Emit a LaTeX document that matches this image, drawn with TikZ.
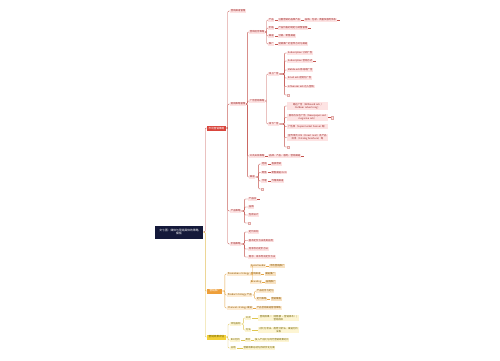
\documentclass[tikz,border=0pt]{standalone}
\usepackage{fontspec}
\setmainfont{Noto Sans CJK SC}
\definecolor{navy}{HTML}{14193A}
\definecolor{rmainc}{HTML}{D9453C}
\definecolor{rlc}{HTML}{C4544E}
\definecolor{rfill}{HTML}{FDE3E3}
\definecolor{rtext}{HTML}{9E2A2A}
\definecolor{omainc}{HTML}{EE9F3A}
\definecolor{olc}{HTML}{E5A545}
\definecolor{ofill}{HTML}{FDEBD2}
\definecolor{otext}{HTML}{8A5500}
\definecolor{ymainc}{HTML}{F2D03A}
\definecolor{ylc}{HTML}{E0C650}
\definecolor{yfill}{HTML}{FDF5D3}
\definecolor{ytext}{HTML}{6E5E00}
\newcommand\fsz{\fontsize{2.4}{2.9}\selectfont}
\newcommand\fszr{\fontsize{2.8}{3.6}\selectfont}
\tikzset{
  base/.style={font=\fsz, inner xsep=0.7pt, inner ysep=0.55pt, anchor=west},
  rleaf/.style={base, fill=rfill, text=rtext},
  oleaf/.style={base, fill=ofill, text=otext},
  yleaf/.style={base, fill=yfill, text=ytext},
  rbox/.style={rleaf, align=center, text width=39pt, inner ysep=0.8pt},
  ybox/.style={yleaf, align=center, text width=40pt, inner ysep=0.8pt},
  emptyr/.style={base, fill=rfill, draw=rlc!50, line width=0.2pt, minimum width=2.4pt, minimum height=2.4pt, inner sep=0pt},
  rootbox/.style={fill=navy, text=white, font=\fszr, align=center, text width=44pt, minimum height=13pt, inner sep=2pt},
  mainbox/.style={font=\fontsize{2.6}{3}\selectfont, inner xsep=1.5pt, inner ysep=1.2pt, anchor=west, text=white, minimum height=5pt},
  rl/.style={draw=rlc, line width=0.35pt, rounded corners=1pt},
  ol/.style={draw=olc, line width=0.35pt, rounded corners=1pt},
  yl/.style={draw=ylc, line width=0.35pt, rounded corners=1pt},
}
\begin{document}
\begin{tikzpicture}[x=1pt,y=-1pt]
\useasboundingbox (0,0) rectangle (500,360);
\fill[white] (0,0) rectangle (500,360);
% root
\node[rootbox] (root) at (179,232) {文七图：媒体与营销具体的策略\\模板};
% level 1
\node[mainbox, fill=rmainc] (n1) at (207,128) {市场营销策略};
\node[mainbox, fill=omainc, minimum width=15pt] (n2) at (207,291) {营销推广};
\node[mainbox, fill=ymainc, text=ytext] (n3) at (207,337) {营销效果评估};
\draw[rl] (root.east) -- ++(2,0) |- (n1.west);
\draw[ol] (root.east) -- ++(2,0) |- (n2.west);
\draw[yl] (root.east) -- ++(2,0) |- (n3.west);
% ---------- red branch ----------
\node[rleaf] (r1) at (230,11) {营销渠道管理};
\node[rleaf] (r2) at (230,104) {促销策略管理};
\node[rleaf] (r3) at (230,211) {产品策略};
\node[rleaf] (r4) at (230,244) {价格策略};
\foreach \c in {r1,r2,r3,r4} \draw[rl] (n1.east) -- ++(1.8,0) |- (\c.west);
% r2 children
\node[rleaf] (r21) at (249,32) {营销组合策略};
\node[rleaf] (r22) at (249,101) {广告营销策略};
\node[rleaf] (r23) at (249,156) {公共关系策略};
\node[rleaf] (r24) at (249,177) {渠道};
\foreach \c in {r21,r22,r23,r24} \draw[rl] (r2.east) -- ++(1.2,0) |- (\c.west);
\node[rleaf] (r23a) at ([xshift=3pt]r23.east) {品牌、产品、服务、营销渠道};
\draw[rl] (r23) -- (r23a);
\coordinate (r23e) at ([xshift=3pt]r23a.east);
\draw[rl] (r23a) -- (r23e);
% r21 children
\node[rleaf] (r211) at (268,20) {产品};
\node[rleaf] (r212) at (268,28) {价格};
\node[rleaf] (r213) at (268,36) {渠道};
\node[rleaf] (r214) at (268,44) {推广};
\foreach \c in {r211,r212,r213,r214} \draw[rl] (r21.east) -- ++(1.5,0) |- (\c.west);
\node[rleaf] (r211a) at ([xshift=3pt]r211.east) {注重营销的品牌产品};
\node[rleaf] (r211b) at ([xshift=3pt]r211a.east) {品牌、包装、质量及服务体系};
\coordinate (r211e) at ([xshift=3pt]r211b.east);
\draw[rl] (r211) -- (r211a); \draw[rl] (r211a) -- (r211b); \draw[rl] (r211b) -- (r211e);
\node[rleaf] (r212a) at ([xshift=3pt]r212.east) {产品价格的制定与调整管理};
\coordinate (r212e) at ([xshift=3pt]r212a.east);
\draw[rl] (r212) -- (r212a); \draw[rl] (r212a) -- (r212e);
\node[rleaf] (r213a) at ([xshift=3pt]r213.east) {分销、零售渠道};
\draw[rl] (r213) -- (r213a);
\node[rleaf] (r214a) at ([xshift=3pt]r214.east) {促销推广的宣传方式与渠道};
\draw[rl] (r214) -- (r214a);
% r22 children
\node[rleaf] (r221) at (268,74) {线上广告};
\node[rleaf] (r222) at (268,124) {线下广告};
\foreach \c in {r221,r222} \draw[rl] (r22.east) -- ++(1.5,0) |- (\c.west);
% online ads
\node[rleaf] (a1) at (287,53) {Subscription 订阅广告};
\node[rleaf] (a2) at (287,61) {Subscription 营销方式};
\node[rleaf] (a3) at (287,70) {Mobile ads 移动端广告};
\node[rleaf] (a4) at (287,78) {Email ads 定制化广告};
\node[rleaf] (a5) at (287,86.5) {Influencer ads 达人营销};
\node[emptyr, anchor=west] (a6) at (287,95) {};
\foreach \c in {a1,a2,a3,a4,a5,a6} \draw[rl] (r221.east) -- ++(5,0) |- (\c.west);
\coordinate (a2e) at ([xshift=3pt]a2.east);
\draw[rl] (a2) -- (a2e);
% offline ads
\node[rbox] (b1) at (287,106) {路边广告（Billboard ads /\\Outdoor advertising）};
\node[rbox] (b2) at (287,117.5) {报纸与杂志广告（Newspaper and\\magazine ads）};
\node[rbox] (b3) at (287,126.5) {广告牌（Supermarket banner 等）};
\node[rbox] (b4) at (287,137.5) {宣传单页 DM（Direct mail）及产品\\目录（Catalog brochure）等};
\node[emptyr, anchor=west] (b5) at (287,147) {};
\foreach \c in {b1,b2,b3,b4,b5} \draw[rl] (r222.east) -- ++(5,0) |- (\c.west);
\node[emptyr, anchor=west] (b2x) at ([xshift=3pt]b2.east) {};
\draw[rl] (b2) -- (b2x);
% channel children
\node[rleaf] (c1) at (261,164) {经销};
\node[rleaf] (c2) at (261,172.5) {零售};
\node[rleaf] (c3) at (261,181) {代理};
\node[emptyr, anchor=west] (c4) at (261,189) {};
\foreach \c in {c1,c2,c3,c4} \draw[rl] (r24.east) -- ++(3,0) |- (\c.west);
\node[rleaf] (c1a) at ([xshift=3pt]c1.east) {直接营销};
\node[rleaf] (c2a) at ([xshift=3pt]c2.east) {零售渠道 O2O};
\node[rleaf] (c3a) at ([xshift=3pt]c3.east) {代理商渠道};
\draw[rl] (c1) -- (c1a); \draw[rl] (c2) -- (c2a); \draw[rl] (c3) -- (c3a);
% product strategy
\node[rleaf] (p1) at (248,199) {产品线};
\node[rleaf] (p2) at (248,207) {品牌};
\node[rleaf] (p3) at (248,215) {包装设计};
\node[emptyr, anchor=west] (p4) at (248,223) {};
\foreach \c in {p1,p2,p3,p4} \draw[rl] (r3.east) -- ++(3,0) |- (\c.west);
\coordinate (p1e) at ([xshift=3pt]p1.east);
\draw[rl] (p1) -- (p1e);
% price strategy
\node[rleaf] (q1) at (248,232) {定价目标};
\node[rleaf] (q2) at (248,240.5) {基本定价方法及其应用};
\node[rleaf] (q3) at (248,249) {竞争导向定价方法};
\node[rleaf] (q4) at (248,257) {需求、成本导向定价方法};
\foreach \c in {q1,q2,q3,q4} \draw[rl] (r4.east) -- ++(3,0) |- (\c.west);
% ---------- orange branch ----------
\node[oleaf] (o1) at (227,274) {Promotion strategy};
\node[oleaf] (o2) at (227,295) {Product strategy 产品};
\node[oleaf] (o3) at (227,308) {Channel strategy 渠道};
\foreach \c in {o1,o2,o3} \draw[ol] (n2.east) -- ++(2.5,0) |- (\c.west);
\node[oleaf] (o11) at (250,266) {Social media};
\node[oleaf] (o12) at (250,274) {营销渠道};
\node[oleaf] (o13) at (250,282) {Branding};
\foreach \c in {o11,o12,o13} \draw[ol] (o1.east) -- ++(2.5,0) |- (\c.west);
\node[oleaf, fill=ofill!60!olc!60] (o11a) at ([xshift=3pt]o11.east) {市场营销推广};
\node[oleaf, fill=ofill!60!olc!60] (o12a) at ([xshift=3pt]o12.east) {渠道推广};
\node[oleaf, fill=ofill!60!olc!60] (o13a) at ([xshift=3pt]o13.east) {品牌推广};
\draw[ol] (o11) -- (o11a); \draw[ol] (o12) -- (o12a); \draw[ol] (o13) -- (o13a);
\node[oleaf] (o21) at (256,291) {产品组合与定位};
\node[oleaf] (o22) at (256,299) {定价策略};
\foreach \c in {o21,o22} \draw[ol] (o2.east) -- ++(2,0) |- (\c.west);
\node[oleaf, fill=ofill!60!olc!60] (o22a) at ([xshift=3pt]o22.east) {营销策略};
\draw[ol] (o22) -- (o22a);
\node[oleaf] (o3a) at ([xshift=3pt]o3.east) {产品营销渠道管理策略};
\draw[ol] (o3) -- (o3a);
% ---------- yellow branch ----------
\node[yleaf] (y1) at (230,324) {评估指标};
\node[yleaf] (y2) at (230,340) {ROI分析};
\node[yleaf] (y3) at (230,348) {总结};
\foreach \c in {y1,y2,y3} \draw[yl] (n3.east) -- ++(2,0) |- (\c.west);
\node[yleaf] (y11) at (245,318) {公式};
\node[yleaf] (y12) at (245,330) {方法};
\foreach \c in {y11,y12} \draw[yl] (y1.east) -- ++(2,0) |- (\c.west);
\node[ybox] (y11a) at ([xshift=6pt]y11.east) {营销效果 =（销售额 − 营销成本）/\\营销成本};
\node[ybox] (y12a) at ([xshift=6pt]y12.east) {对比分析法、趋势分析法、渠道分析\\法等};
\draw[yl] (y11) -- (y11a); \draw[yl] (y12) -- (y12a);
\node[yleaf] (y2a) at ([xshift=4pt]y2.east) {类比};
\node[yleaf] (y2b) at ([xshift=3pt]y2a.east) {投入产出比与同行营销效果对比};
\draw[yl] (y2) -- (y2a); \draw[yl] (y2a) -- (y2b);
\node[yleaf] (y3a) at ([xshift=6pt]y3.east) {营销效果总结与持续优化方案};
\draw[yl] (y3) -- (y3a);
\end{tikzpicture}
\end{document}
